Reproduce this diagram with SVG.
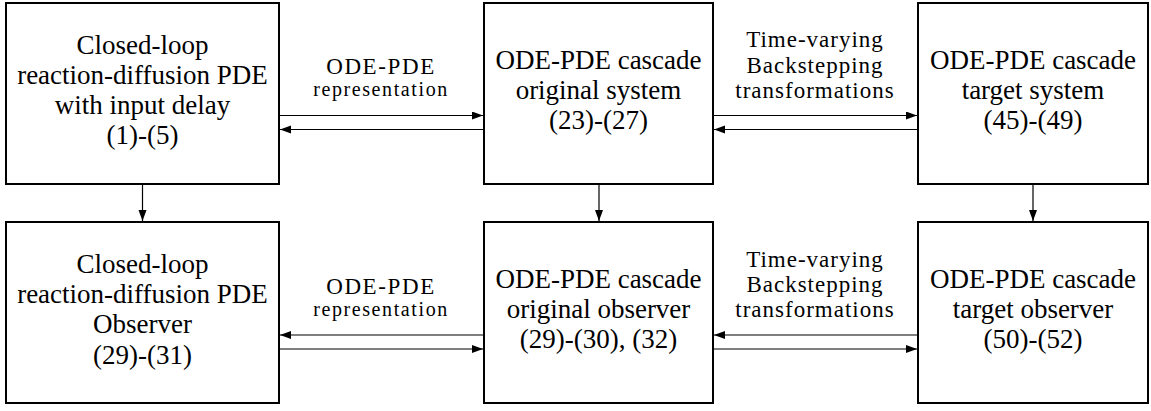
<svg xmlns="http://www.w3.org/2000/svg" width="1151" height="411" viewBox="0 0 1151 411">
<defs>
<marker id="ah" markerUnits="userSpaceOnUse" markerWidth="12" markerHeight="10" refX="11" refY="4" orient="auto">
<path d="M0,0 L11,4 L0,8 Z" fill="#000"/>
</marker>
<style>
.box{fill:#fff;stroke:#000;stroke-width:2}
.t{font-family:"Liberation Serif","DejaVu Serif",serif;font-size:27px;fill:#000;text-anchor:middle}
.l{font-family:"Liberation Serif","DejaVu Serif",serif;font-size:23px;letter-spacing:1px;fill:#000;text-anchor:middle}
.h{font-family:"Liberation Serif","DejaVu Serif",serif;font-size:23px;letter-spacing:1.6px;fill:#000;text-anchor:middle}
.s{font-family:"Liberation Serif","DejaVu Serif",serif;font-size:20px;letter-spacing:1.6px;fill:#000;text-anchor:middle}
.c{stroke:#000;stroke-width:1.2;fill:none;marker-end:url(#ah)}
</style>
</defs>
<rect width="1151" height="411" fill="#fff"/>
<g id="connectors">
<line class="c" x1="142.5" y1="185" x2="142.5" y2="221"/>
<line class="c" x1="599" y1="185" x2="599" y2="221"/>
<line class="c" x1="1033" y1="185" x2="1033" y2="221"/>
<line class="c" x1="280" y1="115.5" x2="483" y2="115.5"/>
<line class="c" x1="483" y1="129.5" x2="280" y2="129.5"/>
<line class="c" x1="714" y1="115.5" x2="917" y2="115.5"/>
<line class="c" x1="917" y1="129.5" x2="714" y2="129.5"/>
<line class="c" x1="483" y1="335" x2="280" y2="335"/>
<line class="c" x1="280" y1="349" x2="483" y2="349"/>
<line class="c" x1="917" y1="335" x2="714" y2="335"/>
<line class="c" x1="714" y1="349" x2="917" y2="349"/>
<text class="h" x="381" y="73.5">ODE-PDE</text>
<text class="s" x="381" y="96">representation</text>
<text class="l" x="815" y="47">Time-varying</text>
<text class="l" x="815" y="72.5">Backstepping</text>
<text class="l" x="815" y="98">transformations</text>
<text class="h" x="381" y="293.5">ODE-PDE</text>
<text class="s" x="381" y="316">representation</text>
<text class="l" x="815" y="267">Time-varying</text>
<text class="l" x="815" y="292">Backstepping</text>
<text class="l" x="815" y="317">transformations</text>
</g>
<g id="n1">
<rect class="box" x="6" y="3" width="273" height="181"/>
<text class="t" x="142.5" y="54">Closed-loop</text>
<text class="t" x="142.5" y="84">reaction-diffusion PDE</text>
<text class="t" x="142.5" y="114">with input delay</text>
<text class="t" x="142.5" y="144">(1)-(5)</text>
</g>
<g id="n2">
<rect class="box" x="484" y="3" width="229" height="181"/>
<text class="t" x="598.5" y="69">ODE-PDE cascade</text>
<text class="t" x="598.5" y="99">original system</text>
<text class="t" x="598.5" y="129">(23)-(27)</text>
</g>
<g id="n3">
<rect class="box" x="918" y="3" width="230" height="181"/>
<text class="t" x="1033" y="69">ODE-PDE cascade</text>
<text class="t" x="1033" y="99">target system</text>
<text class="t" x="1033" y="129">(45)-(49)</text>
</g>
<g id="n4">
<rect class="box" x="6" y="222" width="273" height="181"/>
<text class="t" x="142.5" y="273">Closed-loop</text>
<text class="t" x="142.5" y="303">reaction-diffusion PDE</text>
<text class="t" x="142.5" y="333">Observer</text>
<text class="t" x="142.5" y="364">(29)-(31)</text>
</g>
<g id="n5">
<rect class="box" x="484" y="222" width="229" height="181"/>
<text class="t" x="598.5" y="288">ODE-PDE cascade</text>
<text class="t" x="598.5" y="318">original observer</text>
<text class="t" x="598.5" y="348">(29)-(30), (32)</text>
</g>
<g id="n6">
<rect class="box" x="918" y="222" width="230" height="181"/>
<text class="t" x="1033" y="288">ODE-PDE cascade</text>
<text class="t" x="1033" y="318">target observer</text>
<text class="t" x="1033" y="348">(50)-(52)</text>
</g>
</svg>
